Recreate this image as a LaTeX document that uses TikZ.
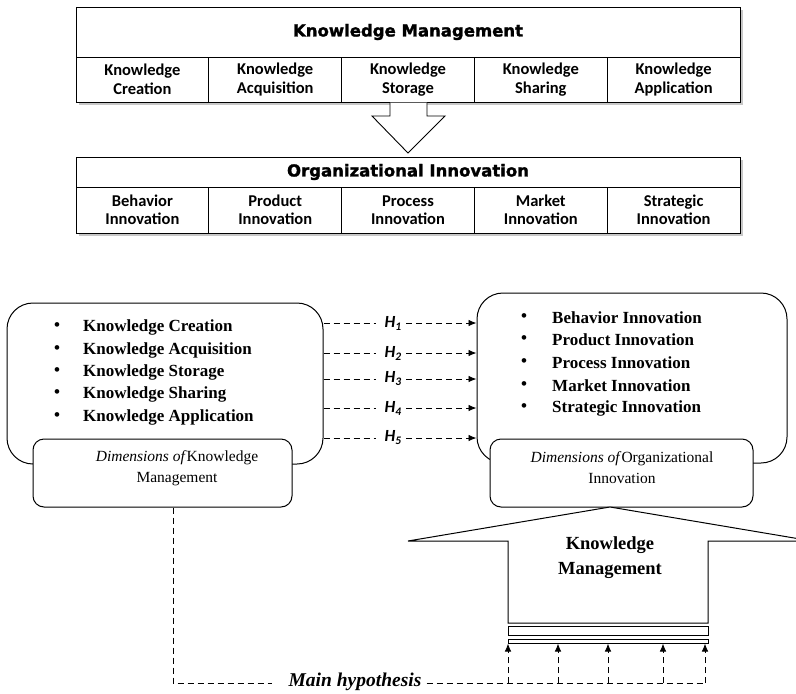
\documentclass[tikz,border=0pt]{standalone}
\usepackage{fontspec}
\setmainfont{Liberation Serif}
\newfontfamily\calibri{Carlito}
\newfontfamily\heavy{DejaVu Sans}[BoldFeatures={FakeBold=1.6}]
\usetikzlibrary{arrows.meta}
\tikzset{
  frame/.style={draw, line width=1pt, fill=white, inner sep=0pt},
  titlecell/.style={frame, minimum width=664pt, font=\heavy\bfseries\fontsize{16.5}{19}\selectfont},
  cell/.style={frame, minimum width=132.8pt, align=center, font=\calibri\bfseries\fontsize{16.5}{18.5}\selectfont},
  bigbox/.style={draw, line width=1pt, rounded corners=26pt, inner sep=0pt},
  smallbox/.style={draw, line width=1pt, fill=white, rounded corners=11pt, inner sep=0pt},
  boxtext/.style={inner sep=0pt, align=center, font=\fontsize{15.5}{21}\selectfont},
  item/.style={anchor=west, inner sep=0pt, font=\bfseries\fontsize{17}{20}\selectfont},
  bul/.style={inner sep=0pt, font=\bfseries\fontsize{17}{20}\selectfont},
  hlab/.style={inner sep=1pt, font=\calibri\bfseries\itshape\fontsize{17}{18}\selectfont},
  dline/.style={line width=0.9pt, dash pattern=on 6pt off 4pt},
  tip/.style={-{Latex[length=8pt,width=6.5pt]}},
}
\newcommand{\Hsub}[1]{H\raisebox{-3pt}{\fontsize{11.5}{11.5}\selectfont #1}}
\begin{document}
\begin{tikzpicture}[x=1pt,y=-1pt]
\useasboundingbox (0,0) rectangle (796,694);
\clip (0,0) rectangle (796,694);
% ---------- top block ----------
\fill[black!22] (78.5,9.5) rectangle (742.5,104.5);
\node[titlecell, minimum height=50pt] (km) at (408,32) {Knowledge Management};
\node[cell, minimum height=45pt] (k1) at (142.4,79.5) {Knowledge\\Creation};
\node[cell, minimum height=45pt] (k2) at (275.2,79.5) {Knowledge\\Acquisition};
\node[cell, minimum height=45pt] (k3) at (408,79.5) {Knowledge\\Storage};
\node[cell, minimum height=45pt] (k4) at (540.8,79.5) {Knowledge\\Sharing};
\node[cell, minimum height=45pt] (k5) at (673.6,79.5) {Knowledge\\Application};
% hollow arrow
\draw[line width=0.9pt, fill=white] (390,102.5) -- (390,116) -- (372,116) -- (408,153) -- (445,116) -- (427,116) -- (427,102.5);
% ---------- second block ----------
\fill[black!22] (78.5,159.5) rectangle (742.5,235.5);
\node[titlecell, minimum height=30pt] (oi) at (408,172) {Organizational Innovation};
\node[cell, minimum height=46pt] (o1) at (142.4,210) {Behavior\\Innovation};
\node[cell, minimum height=46pt] (o2) at (275.2,210) {Product\\Innovation};
\node[cell, minimum height=46pt] (o3) at (408,210) {Process\\Innovation};
\node[cell, minimum height=46pt] (o4) at (540.8,210) {Market\\Innovation};
\node[cell, minimum height=46pt] (o5) at (673.6,210) {Strategic\\Innovation};
% ---------- left dimension box ----------
\node[bigbox, minimum width=316pt, minimum height=161pt] (L) at (165,383.5) {};
\foreach \y/\t [count=\i] in {327/Knowledge Creation, 350/Knowledge Acquisition, 372/Knowledge Storage, 394/Knowledge Sharing, 417/Knowledge Application}{
  \node[bul] (lb\i) at (57,\y) {\textbullet};
  \node[item] (li\i) at (83,\y) {\t};
}
\node[smallbox, minimum width=259pt, minimum height=68pt] (Ls) at (162.5,473) {};
\node[boxtext] (Lt) at (177,468) {\textit{Dimensions of}Knowledge\\Management};
% ---------- right dimension box ----------
\node[bigbox, minimum width=310pt, minimum height=170pt] (R) at (632,378) {};
\foreach \y/\t [count=\i] in {318/Behavior Innovation, 340/Product Innovation, 363/Process Innovation, 386/Market Innovation, 408/Strategic Innovation}{
  \node[bul] (rb\i) at (524,\y) {\textbullet};
  \node[item] (ri\i) at (552,\y) {\t};
}
\node[smallbox, minimum width=263pt, minimum height=68pt] (Rs) at (621.5,473) {};
\node[boxtext] (Rt) at (622,468) {\textit{Dimensions of}Organizational\\Innovation};
% ---------- hypotheses H1..H5 ----------
\foreach \y [count=\i] in {323,353,379,408,438}{
  \node[hlab] (h\i) at (393,\y) {\Hsub{\i}};
  \draw[dline] (h\i -| L.east) -- ([xshift=-8pt]h\i.west);
  \draw[dline, tip] ([xshift=4pt]h\i.east) -- (h\i -| R.west);
}
% ---------- big up arrow ----------
\draw[line width=1pt, fill=white] (508,623) -- (508,541) -- (408,541) -- (610,507) -- (812,541) -- (708,541) -- (708,623) -- cycle;
\node[inner sep=0pt, align=center, font=\bfseries\fontsize{18.5}{25}\selectfont] (kmb) at (610,557.5) {Knowledge\\Management};
\node[draw, line width=1pt, inner sep=0pt, minimum width=200pt, minimum height=9pt] (s1) at (608,630.5) {};
\node[draw, line width=1pt, inner sep=0pt, minimum width=200pt, minimum height=4pt] (s2) at (608,641) {};
% ---------- main hypothesis ----------
\node[inner sep=0pt, font=\bfseries\itshape\fontsize{19.5}{22}\selectfont] (mh) at (355,682) {Main hypothesis};
\coordinate (c0) at (173,683);
\draw[dline] (c0 |- Ls.south) -- (c0) -- ([xshift=-16pt]mh.west |- c0);
\foreach \x [count=\i] in {508,558,608,663,705}{
  \coordinate (b\i) at (\x,683);
  \draw[dline, tip] (b\i) -- (b\i |- s2.south);
}
\draw[dline] ([xshift=5pt]mh.east |- c0) -- (b5);
\end{tikzpicture}
\end{document}
